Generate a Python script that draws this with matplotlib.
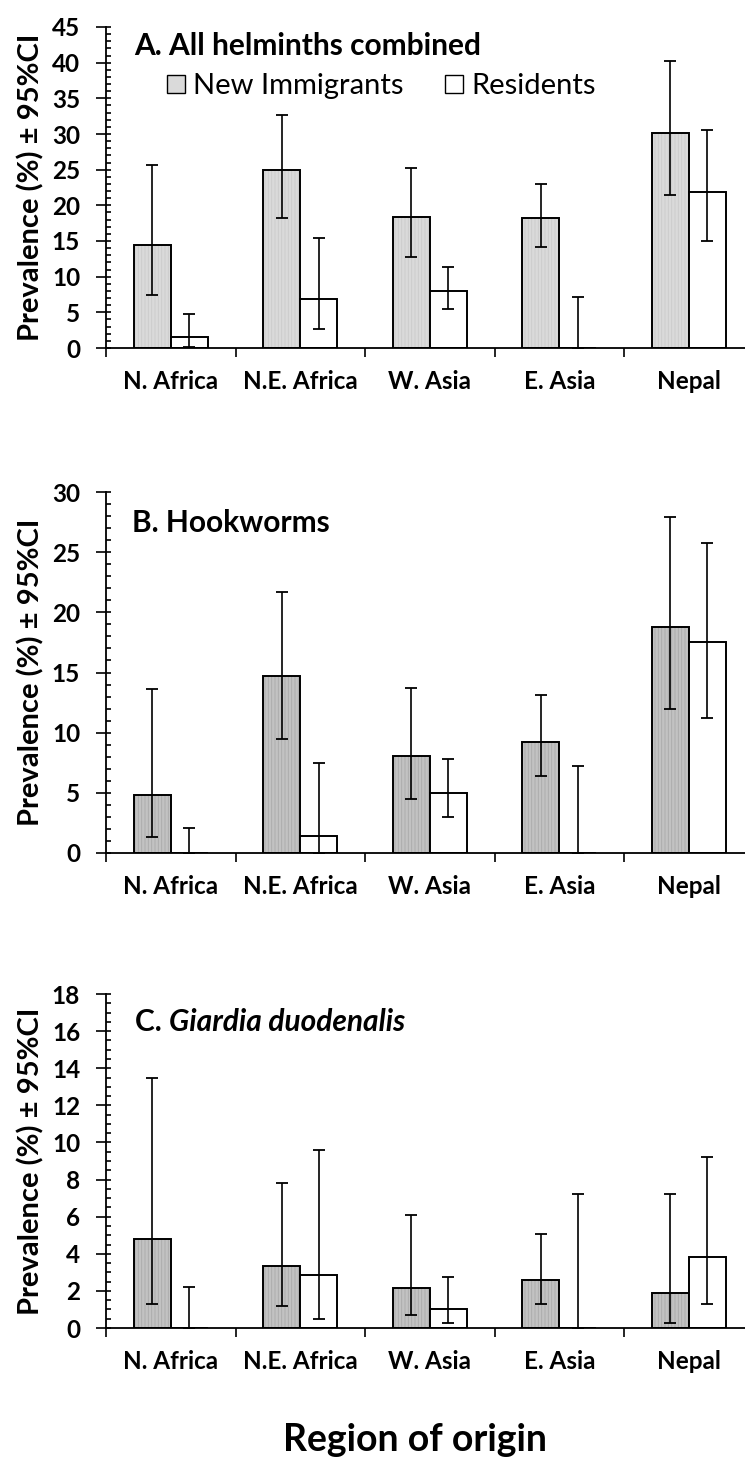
import matplotlib
matplotlib.use('Agg')
import matplotlib.pyplot as plt
import numpy as np
from matplotlib.ticker import MultipleLocator, FixedLocator, NullFormatter
from matplotlib.patches import Patch

# ---------------- data ----------------
regions = ['N. Africa', 'N.E. Africa', 'W. Asia', 'E. Asia', 'Nepal']
series_names = ['New Immigrants', 'Residents']

# A. All helminths combined
a_imm = [14.5, 24.9, 18.4, 18.2, 30.2]
a_imm_lo = [7.4, 18.2, 12.8, 14.1, 21.4]
a_imm_hi = [25.7, 32.7, 25.3, 23.0, 40.2]
a_res = [1.6, 6.9, 8.0, 0.0, 21.9]
a_res_lo = [0.2, 2.6, 5.4, 0.0, 15.0]
a_res_hi = [4.8, 15.4, 11.3, 7.2, 30.5]

# B. Hookworms
b_imm = [4.8, 14.7, 8.1, 9.2, 18.8]
b_imm_lo = [1.3, 9.5, 4.5, 6.4, 12.0]
b_imm_hi = [13.6, 21.7, 13.7, 13.1, 27.9]
b_res = [0.0, 1.45, 5.0, 0.0, 17.5]
b_res_lo = [0.0, 0.0, 3.0, 0.0, 11.2]
b_res_hi = [2.1, 7.5, 7.8, 7.2, 25.8]

# C. Giardia duodenalis
c_imm = [4.8, 3.35, 2.15, 2.6, 1.9]
c_imm_lo = [1.3, 1.2, 0.7, 1.3, 0.25]
c_imm_hi = [13.5, 7.8, 6.1, 5.05, 7.2]
c_res = [0.0, 2.85, 1.05, 0.0, 3.8]
c_res_lo = [0.0, 0.5, 0.25, 0.0, 1.3]
c_res_hi = [2.2, 9.6, 2.75, 7.2, 9.2]

y_major = [5, 5, 2]
y_minor = [1, 1, 0.5]
y_max = [45, 30, 18]
title_y = [42.35, 27.4, 16.5]

# ---------------- style ----------------
W, H = 745, 1463
fig = plt.figure(figsize=(W / 100, H / 100), dpi=100)
plt.rcParams['hatch.linewidth'] = 0.6

FONT = 'Lato'
BLACK = 'black'
imm_colors = ['#dadada', '#c2c2c2', '#c2c2c2']
hatch_colors = ['#cbcbcb', '#a9a9a9', '#a9a9a9']

left_px, right_px = 106, 745
cat_px = 129.5
panels_px = [(27, 348), (492, 853), (994, 1328)]

datasets = [
    (a_imm, a_imm_lo, a_imm_hi, a_res, a_res_lo, a_res_hi),
    (b_imm, b_imm_lo, b_imm_hi, b_res, b_res_lo, b_res_hi),
    (c_imm, c_imm_lo, c_imm_hi, c_res, c_res_lo, c_res_hi),
]

bw = 0.286
x = np.arange(len(regions))
xmax = -0.5 + (right_px - left_px) / cat_px

axes = []
for i, (top, bot) in enumerate(panels_px):
    ax = fig.add_axes([left_px / W, 1 - bot / H, (right_px - left_px) / W, (bot - top) / H])
    axes.append(ax)
    imm, imm_lo, imm_hi, res, res_lo, res_hi = datasets[i]
    imm = np.array(imm); res = np.array(res)
    ax.bar(x - bw / 2, imm, bw, color=imm_colors[i], edgecolor=hatch_colors[i],
           hatch='|||||', linewidth=0, zorder=2)
    ax.bar(x - bw / 2, imm, bw, fill=False, edgecolor=BLACK, linewidth=1.4, zorder=3)
    ax.bar(x + bw / 2, res, bw, color='white', edgecolor=BLACK, linewidth=1.4, zorder=3)
    ax.errorbar(x - bw / 2, imm, yerr=[imm - np.array(imm_lo), np.array(imm_hi) - imm],
                fmt='none', ecolor=BLACK, elinewidth=1.2, capsize=4.3, capthick=1.3, zorder=4)
    ax.errorbar(x + bw / 2, res, yerr=[res - np.array(res_lo), np.array(res_hi) - res],
                fmt='none', ecolor=BLACK, elinewidth=1.2, capsize=4.3, capthick=1.3, zorder=4)

    ax.set_xlim(-0.5, xmax)
    ax.set_ylim(0, y_max[i])
    for s in ['top', 'right']:
        ax.spines[s].set_visible(False)
    ax.spines['left'].set_linewidth(1.3)
    ax.spines['bottom'].set_linewidth(1.3)
    ax.spines['bottom'].set_zorder(5)

    ax.yaxis.set_major_locator(MultipleLocator(y_major[i]))
    ax.yaxis.set_minor_locator(MultipleLocator(y_minor[i]))
    ax.yaxis.remove_overlapping_locs = False
    ax.tick_params(axis='y', which='major', direction='out', length=7.2, width=1.2, pad=11.5,
                   labelsize=17.5)
    ax.tick_params(axis='y', which='minor', direction='in', length=3.6, width=1.2)
    ax.set_xticks(x)
    ax.set_xticklabels(regions)
    ax.xaxis.set_minor_locator(FixedLocator(np.arange(-0.5, len(regions), 1.0)))
    ax.xaxis.set_minor_formatter(NullFormatter())
    ax.tick_params(axis='x', which='major', length=0, pad=16, labelsize=17.5)
    ax.tick_params(axis='x', which='minor', direction='out', length=6.5, width=1.2)
    for lab in ax.get_xticklabels() + ax.get_yticklabels():
        lab.set_fontfamily(FONT)
        lab.set_fontweight('bold')

    ax.set_ylabel('Prevalence (%) ± 95%CI', fontsize=21, fontweight='bold',
                  fontfamily=FONT)
    ax.yaxis.set_label_coords(-(left_px - 44) / (right_px - left_px), 0.5)

# titles
xa = lambda px: (px - left_px) / (right_px - left_px)
axes[0].text(xa(134), title_y[0], 'A. All helminths combined', fontsize=21.5,
             fontweight='bold', fontfamily=FONT, va='center', ha='left',
             transform=axes[0].get_yaxis_transform())
axes[1].text(xa(132), title_y[1], 'B. Hookworms', fontsize=21.5, fontweight='bold',
             fontfamily=FONT, va='center', ha='left', transform=axes[1].get_yaxis_transform())
tC = axes[2].text(xa(135), title_y[2], 'C. ', fontsize=21.5, fontweight='bold',
                  fontfamily=FONT, va='center', ha='left',
                  transform=axes[2].get_yaxis_transform())
axes[2].annotate('Giardia duodenalis', xy=(1, 0.5), xycoords=tC, va='center', ha='left',
                 fontsize=21.5, fontweight='bold', fontstyle='italic', fontfamily=FONT)

# legend in panel A
handles = [Patch(facecolor=imm_colors[0], edgecolor=BLACK, linewidth=1.0, label=series_names[0]),
           Patch(facecolor='white', edgecolor=BLACK, linewidth=1.0, label=series_names[1])]
axes[0].legend(handles=handles, loc='center left', ncol=2, frameon=False,
               bbox_to_anchor=(xa(167), 36.7 / y_max[0]),
               prop={'family': FONT, 'size': 21}, handlelength=0.6, handleheight=0.6,
               handletextpad=0.28, columnspacing=1.45, borderaxespad=0, borderpad=0)

fig.text(415 / W, 1 - 1440 / H, 'Region of origin', fontsize=27, fontweight='bold',
         fontfamily=FONT, ha='center', va='center')

fig.savefig('out.png', dpi=100)
